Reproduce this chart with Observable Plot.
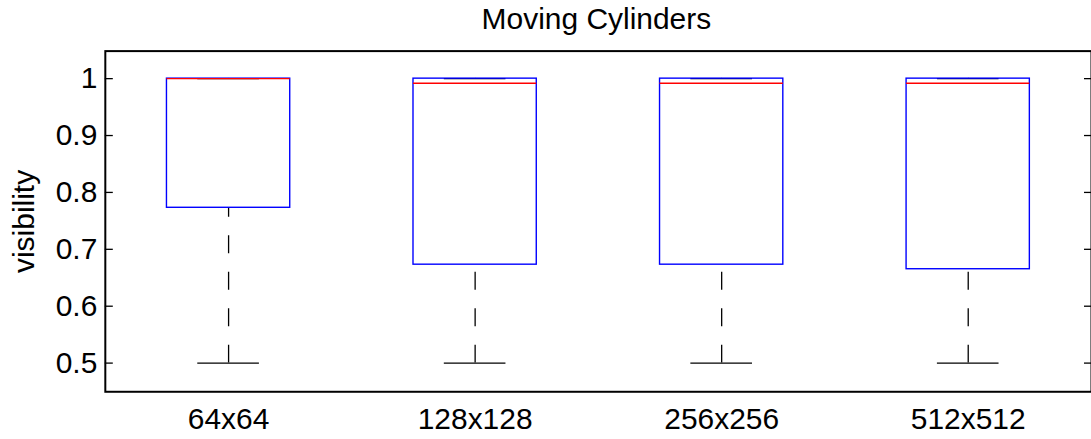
<!DOCTYPE html>
<html>
<head>
<meta charset="utf-8">
<script src="https://cdn.jsdelivr.net/npm/d3@7"></script>
<script src="https://cdn.jsdelivr.net/npm/@observablehq/plot@0.6"></script>
<style>
  html, body { margin: 0; padding: 0; background: #fff; overflow: hidden; }
  #chart svg { display: block; }
</style>
</head>
<body>
<div id="chart"></div>
<script>
const title = "Moving Cylinders";
const yLabel = "visibility";
const categories = ["64x64", "128x128", "256x256", "512x512"];
const lowerWhisker = [0.5, 0.5, 0.5, 0.5];
const q1 = [0.773, 0.673, 0.673, 0.665];
const median = [1.0, 0.992, 0.992, 0.992];
const q3 = [1.0, 1.0, 1.0, 1.0];
const upperWhisker = [1.0, 1.0, 1.0, 1.0];
const yTicks = [0.5, 0.6, 0.7, 0.8, 0.9, 1];

const rows = categories.map((c, i) => ({
  cat: c, pos: i + 1,
  lo: lowerWhisker[i], q1: q1[i], med: median[i], q3: q3[i], hi: upperWhisker[i]
}));
const positions = rows.map(d => d.pos);

const boxHalf = 0.25, capHalf = 0.125;
const font = "Arial, 'Liberation Sans', sans-serif";

const chart = Plot.plot({
  width: 1093,
  height: 439,
  marginLeft: 105,
  marginRight: 0,
  marginTop: 50.7,
  marginBottom: 47,
  style: { fontFamily: font, background: "white", overflow: "visible" },
  x: { domain: [0.5, 4.5], axis: null },
  y: { domain: [0.4496, 1.0484], axis: null },
  marks: [
    // y axis left: labels
    Plot.axisY(yTicks, { anchor: "left", tickSize: 0, tickPadding: 8, fontSize: 30, fill: "black", label: null, tickFormat: d => String(d) }),
    // inward ticks
    Plot.axisY(yTicks, { anchor: "left", tickSize: -8, tickFormat: () => "", strokeWidth: 1.3, stroke: "black", label: null }),
    Plot.axisY(yTicks, { anchor: "right", tickSize: -8, tickFormat: () => "", strokeWidth: 1.3, stroke: "black", label: null }),
    // x axis labels
    Plot.axisX(positions, { anchor: "bottom", tickSize: 0, tickPadding: 16, fontSize: 30, fill: "black", tickFormat: p => categories[p - 1], label: null }),
    // upper whiskers + caps (black, under box)
    Plot.ruleX(rows, { x: "pos", y1: "q3", y2: "hi", stroke: "black", strokeWidth: 1.2, strokeDasharray: "18,18.5" }),
    Plot.ruleY(rows, { y: "hi", x1: d => d.pos - capHalf, x2: d => d.pos + capHalf, stroke: "black", strokeWidth: 1.3 }),
    // lower whiskers (dashed), drawn from whisker end up to box
    Plot.ruleX(rows, { x: "pos", y1: "lo", y2: "q1", stroke: "black", strokeWidth: 1.3, strokeDasharray: "18,18.5" }),
    Plot.ruleY(rows, { y: "lo", x1: d => d.pos - capHalf, x2: d => d.pos + capHalf, stroke: "black", strokeWidth: 1.3 }),
    // boxes
    Plot.rect(rows, { x1: d => d.pos - boxHalf, x2: d => d.pos + boxHalf, y1: "q1", y2: "q3", fill: "none", stroke: "#0000ff", strokeWidth: 1.4 }),
    // medians
    Plot.ruleY(rows, { y: "med", x1: d => d.pos - boxHalf, x2: d => d.pos + boxHalf, stroke: "#ff0000", strokeWidth: 1.4 }),
    // frame
    Plot.frame({ stroke: "black", strokeWidth: 2 }),
    // title
    Plot.text([title], { text: d => d, frameAnchor: "top", lineAnchor: "bottom", dy: -22.4, dx: -2, fontSize: 30, fill: "black" }),
    // y label
    Plot.text([yLabel], { text: d => d, frameAnchor: "left", textAnchor: "middle", rotate: -90, lineAnchor: "bottom", dx: -71, fontSize: 30, fill: "black" })
  ]
});
document.getElementById("chart").appendChild(chart);
</script>
</body>
</html>
